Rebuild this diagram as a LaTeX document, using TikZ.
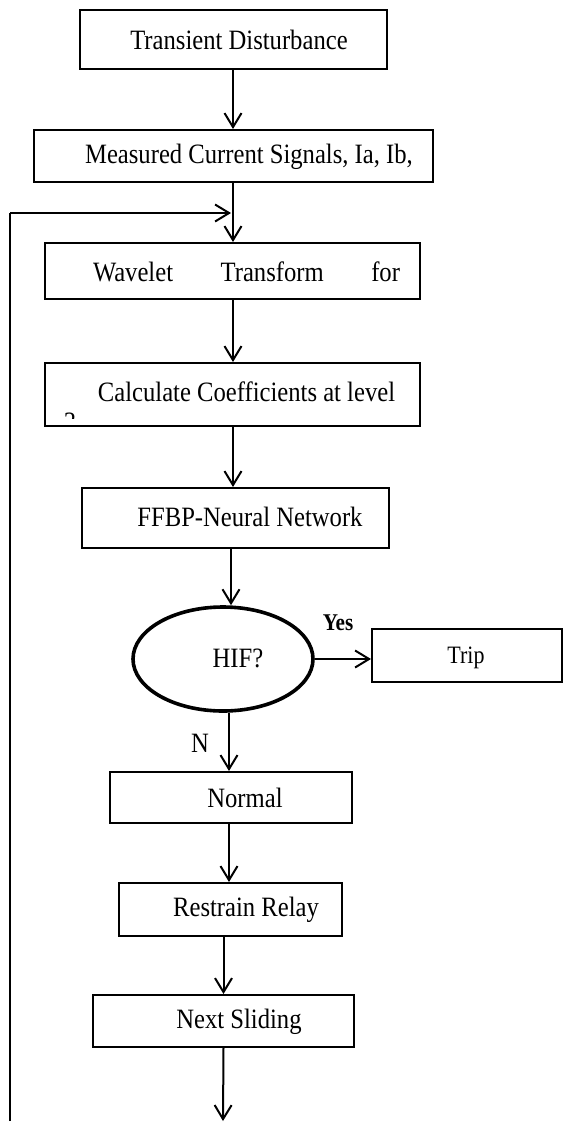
\documentclass[tikz,border=0pt]{standalone}
\usepackage{fontspec}
\setmainfont{Liberation Serif}[FakeStretch=0.88]
\usetikzlibrary{arrows.meta,shapes.geometric}
\begin{document}
\begin{tikzpicture}[x=0.5pt,y=-0.5pt,
  box/.style={draw,line width=1pt,rectangle,inner sep=0pt},
  arr/.style={line width=1pt,-{Straight Barb[length=7pt,width=8.5pt,line width=1pt]}},
  ln/.style={line width=1pt},
  txt/.style={font=\fontsize{14}{16}\selectfont,inner sep=0pt}]
\useasboundingbox (0,0) rectangle (563,1125);
% boxes
\node[box,minimum width=153.5pt,minimum height=29.5pt] (b1) at (233.5,39.5) {};
\node[box,minimum width=199.5pt,minimum height=26pt] (b2) at (233.5,156) {};
\node[box,minimum width=187.5pt,minimum height=28pt] (b3) at (232.5,271) {};
\node[box,minimum width=187.5pt,minimum height=31.5pt] (b4) at (232.5,394.5) {};
\node[box,minimum width=153.5pt,minimum height=30pt] (b5) at (235.5,518) {};
\node[draw,ellipse,line width=1.8pt,minimum width=90pt,minimum height=52pt,inner sep=0pt] (hif) at (223,659) {};
\node[box,minimum width=95pt,minimum height=26.5pt] (trip) at (467,655.5) {};
\node[box,minimum width=121pt,minimum height=25.5pt] (b6) at (231,797.5) {};
\node[box,minimum width=111.5pt,minimum height=26.5pt] (b7) at (230.5,909.5) {};
\node[box,minimum width=130.5pt,minimum height=26pt] (b8) at (223.5,1021) {};
% texts
\node[txt] (t1) at (239,40) {Transient Disturbance};
\node[txt] (t2) at (249,157) {Measured Current Signals, Ia, Ib,};
\node[txt,text width=153.5pt,align=left] (t3) at (246.5,272) {Wavelet\hfill Transform\hfill for};
\node[txt] (t4) at (246.5,392) {Calculate Coefficients at level};
\begin{scope}
  \clip (58,409) rectangle (82,418);
  \node[txt,anchor=base] (t4b) at (70,431) {3};
\end{scope}
\node[txt] (t5) at (250,517) {FFBP-Neural Network};
\node[txt] (t6) at (238,658) {HIF?};
\node[txt,font=\fontsize{12.5}{14}\selectfont] (t7) at (466,658) {Trip};
\node[inner sep=0pt,font=\fontsize{12}{14}\bfseries] (yes) at (338,623) {Yes};
\node[txt] (no) at (200,743) {N};
\node[txt] (t8) at (245,798) {Normal};
\node[txt] (t9) at (246,910) {Restrain Relay};
\node[txt] (t10) at (239,1022) {Next Sliding};
% connector coordinates
\coordinate (join) at (233,213);
\coordinate (fbl) at (10,1121);
\coordinate (fbc) at (10,213);
\coordinate (endp) at (223,1121);
\coordinate (a1) at (233,0);
\coordinate (a5) at (231,0);
\coordinate (a6) at (229,0);
% connectors
\draw[arr] (b1.south -| a1) -- (b2.north -| a1);
\draw[arr] (b2.south -| a1) -- (b3.north -| a1);
\draw[arr] (b3.south -| a1) -- (b4.north -| a1);
\draw[arr] (b4.south -| a1) -- (b5.north -| a1);
\draw[arr] (b5.south -| a5) -- (hif.north -| a5);
\draw[arr] (hif.east) -- (hif.east -| trip.west);
\draw[arr] (hif.south -| a6) -- (b6.north -| a6);
\draw[arr] (b6.south -| a6) -- (b7.north -| a6);
\draw[arr] (b7.south -| b8.north) -- (b8.north);
\draw[arr] (b8.south) -- (endp);
\draw[ln] (fbl) -- (fbc);
\draw[arr] (fbc) -- ([xshift=-1pt]join);
\end{tikzpicture}
\end{document}
